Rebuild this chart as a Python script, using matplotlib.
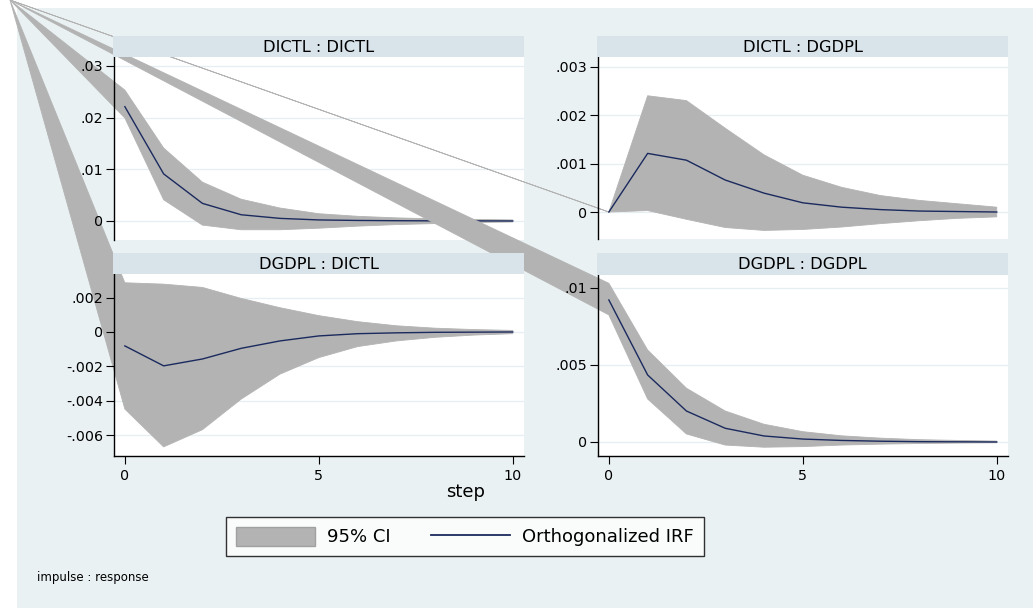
import matplotlib
matplotlib.use("Agg")
import matplotlib.pyplot as plt
from matplotlib.patches import Polygon, Rectangle, Patch
from matplotlib.lines import Line2D
from matplotlib.ticker import FuncFormatter

plt.rcParams['font.family'] = ['DejaVu Sans']

# ---------------- data ----------------
steps = [0, 1, 2, 3, 4, 5, 6, 7, 8, 9, 10]
xticks = [0, 5, 10]

titles = ['DICTL : DICTL', 'DICTL : DGDPL', 'DGDPL : DICTL', 'DGDPL : DGDPL']

irf_dictl_dictl = [0.0221, 0.0091, 0.0034, 0.0012, 0.0005, 0.0002, 0.0001, 0.00005, 0.00002, 0.00001, 0.0]
upper_dictl_dictl = [0.0253, 0.0141, 0.0075, 0.0042, 0.0025, 0.0014, 0.0009, 0.0006, 0.0004, 0.0003, 0.0002]
lower_dictl_dictl = [0.0199, 0.0041, -0.0008, -0.0017, -0.0017, -0.0014, -0.0010, -0.0007, -0.0005, -0.0003, -0.0002]

irf_dictl_dgdpl = [0.0, 0.00121, 0.00107, 0.00066, 0.00039, 0.00019, 0.0001, 0.00005, 0.00002, 0.00001, 0.0]
upper_dictl_dgdpl = [0.0, 0.0024, 0.0023, 0.00173, 0.00118, 0.00076, 0.00051, 0.00034, 0.00024, 0.00017, 0.0001]
lower_dictl_dgdpl = [0.0, 0.00003, -0.00015, -0.00032, -0.00038, -0.00036, -0.00031, -0.00024, -0.00018, -0.00013, -0.0001]

irf_dgdpl_dictl = [-0.00081, -0.00197, -0.00157, -0.00095, -0.00052, -0.00023, -0.0001, -0.00005, -0.00002, -0.00001, 0.0]
upper_dgdpl_dictl = [0.00286, 0.00278, 0.00259, 0.00195, 0.00141, 0.00095, 0.0006, 0.00036, 0.00022, 0.00014, 0.00009]
lower_dgdpl_dictl = [-0.00448, -0.00668, -0.00568, -0.0039, -0.00245, -0.00149, -0.00085, -0.00052, -0.00031, -0.00018, -0.0001]

irf_dgdpl_dgdpl = [0.00922, 0.00435, 0.00201, 0.00089, 0.00039, 0.00019, 0.0001, 0.00005, 0.00002, 0.00001, 0.0]
upper_dgdpl_dgdpl = [0.0103, 0.00597, 0.00349, 0.00201, 0.00115, 0.00067, 0.0004, 0.00025, 0.00015, 0.0001, 0.00006]
lower_dgdpl_dgdpl = [0.00825, 0.00279, 0.00052, -0.0002, -0.00034, -0.0003, -0.0002, -0.00014, -0.0001, -0.00007, -0.00005]

irfs = [irf_dictl_dictl, irf_dictl_dgdpl, irf_dgdpl_dictl, irf_dgdpl_dgdpl]
uppers = [upper_dictl_dictl, upper_dictl_dgdpl, upper_dgdpl_dictl, upper_dgdpl_dgdpl]
lowers = [lower_dictl_dictl, lower_dictl_dgdpl, lower_dgdpl_dictl, lower_dgdpl_dgdpl]

yticks_list = [[0, 0.01, 0.02, 0.03],
               [0, 0.001, 0.002, 0.003],
               [-0.006, -0.004, -0.002, 0, 0.002],
               [0, 0.005, 0.01]]

legend_labels = ['95% CI', 'Orthogonalized IRF']
xlabel = 'step'
note = 'impulse : response'

# ---------------- layout / style ----------------
W, H = 1035, 610
BG = '#EAF1F3'
STRIP = '#D9E4EA'
CI = '#B3B3B3'
LINE = '#1B2A5E'

def box(x0, y0, x1, y1):
    return [x0 / W, 1 - y1 / H, (x1 - x0) / W, (y1 - y0) / H]

ax_px = [(114, 57, 524, 240), (598, 57, 1008, 239), (114, 274, 524, 456), (598, 275, 1008, 456)]
strip_px = [(113, 36, 524, 57), (597, 36, 1008, 57), (113, 253, 524, 274), (597, 253, 1008, 275)]
ylims = [(-0.00368, 0.0317), (-0.000557, 0.0032), (-0.00721, 0.00337), (-0.00091, 0.01084)]
layer = [2, 3, 1, 4]
xlim = (-0.28, 10.29)
corner_px = (10, 0)

def fmt(v, pos=None):
    if abs(v) < 1e-12:
        return '0'
    s = f"{v:g}"
    s = s.replace('0.', '.', 1) if s.startswith('0.') else s.replace('-0.', '-.', 1)
    return s

fig = plt.figure(figsize=(W / 100, H / 100), dpi=100, facecolor='white')
fig.add_artist(Rectangle((17 / W, 1 - 608 / H), (1033 - 17) / W, (608 - 8) / H,
                         transform=fig.transFigure, facecolor=BG, edgecolor='none', zorder=-10))

for i in range(4):
    rect = box(*ax_px[i])
    ax = fig.add_axes(rect, zorder=layer[i])
    ax.set_axisbelow(False)
    ax.set_facecolor('white')
    ax.set_xlim(*xlim)
    ax.set_ylim(*ylims[i])
    ax.set_yticks(yticks_list[i])
    ax.yaxis.set_major_formatter(FuncFormatter(fmt))
    for yt in yticks_list[i]:
        ax.axhline(yt, color='#E6EEF1', lw=0.9, zorder=0.5)
    # confidence band polygon (with the stray vertex at the graph corner, as in the original rendering)
    fx, fy = corner_px[0] / W, 1 - corner_px[1] / H
    axx = (fx - rect[0]) / rect[2]
    axy = (fy - rect[1]) / rect[3]
    cx = xlim[0] + axx * (xlim[1] - xlim[0])
    cy = ylims[i][0] + axy * (ylims[i][1] - ylims[i][0])
    verts = list(zip(steps, uppers[i])) + list(zip(steps[::-1], lowers[i][::-1])) + [(cx, cy)]
    poly = Polygon(verts, closed=True, facecolor=CI, edgecolor=CI, lw=0.6, clip_on=False, zorder=2)
    ax.add_patch(poly)
    ax.plot(steps, irfs[i], color=LINE, lw=1.0, zorder=2.2)

    for s in ['top', 'right']:
        ax.spines[s].set_visible(False)
    ax.spines['left'].set_linewidth(1.0)
    ax.tick_params(axis='y', direction='out', length=6, width=0.8, labelsize=10.3, pad=2)
    if i >= 2:
        ax.set_xticks(xticks)
        ax.tick_params(axis='x', direction='out', length=6, width=0.8, labelsize=10.3, pad=3)
        ax.spines['bottom'].set_linewidth(1.0)
    else:
        ax.set_xticks([])
        ax.spines['bottom'].set_visible(False)

    sax = fig.add_axes(box(*strip_px[i]), zorder=10)
    sax.set_facecolor(STRIP)
    sax.set_xticks([]); sax.set_yticks([])
    for s in sax.spines.values():
        s.set_visible(False)
    sax.text(0.5, 0.47, titles[i], ha='center', va='center', fontsize=11.7, transform=sax.transAxes)

fig.text(466 / W, 1 - 492 / H, xlabel, ha='center', va='center', fontsize=13)
fig.text(37 / W, 1 - 578 / H, note, ha='left', va='center', fontsize=8.5)

handles = [Patch(facecolor=CI, edgecolor='#A0A0A0', lw=1.0),
           Line2D([0], [0], color=LINE, lw=1.3)]
leg = fig.legend(handles, legend_labels, loc='center', bbox_to_anchor=(465 / W, 1 - 536.5 / H),
                 ncol=2, fontsize=13, frameon=True, fancybox=False, handlelength=4.37,
                 handleheight=1.3, handletextpad=0.68, columnspacing=2.2, borderpad=0.55,
                 borderaxespad=0)
leg.get_frame().set_edgecolor('black')
leg.get_frame().set_linewidth(1.0)
leg.get_frame().set_facecolor('white')

fig.savefig('out.png', dpi=100, facecolor='white')
